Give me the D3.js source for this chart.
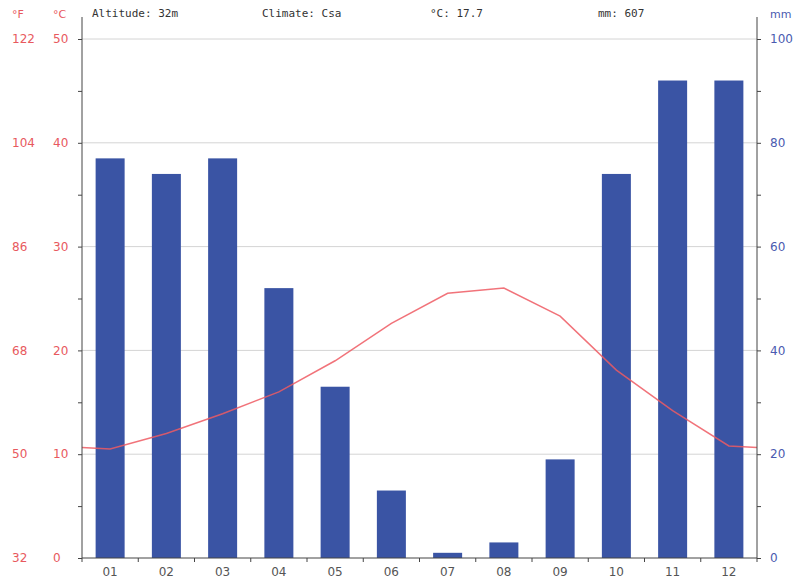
<!DOCTYPE html>
<html>
<head>
<meta charset="utf-8">
<script src="https://cdn.jsdelivr.net/npm/d3@7"></script>
<style>
  body { margin: 0; background: #fff; }
  text { font-family: "DejaVu Sans", sans-serif; }
  .mono { font-family: "DejaVu Sans Mono", monospace; }
</style>
</head>
<body>
<div id="chart"></div>
<script>
// monthly climate data
const months = ["01","02","03","04","05","06","07","08","09","10","11","12"]
const precip = [77, 74, 77, 52, 33, 13, 1, 3, 19, 74, 92, 92]
const temp = [10.5, 12.0, 13.9, 16.0, 19.0, 22.6, 25.5, 26.0, 23.3, 18.1, 14.2, 10.8]
const tempEdge = 10.65   // value where the line meets both side axes
const celsiusTicks = [0, 10, 20, 30, 40, 50]
const fahrenheitTicks = [32, 50, 68, 86, 104, 122]
const mmTicks = [0, 20, 40, 60, 80, 100]
const header = ["Altitude: 32m", "Climate: Csa", "°C: 17.7", "mm: 607"]

const width = 794, height = 580
const margin = {top: 39, right: 37, bottom: 22, left: 82}

const svg = d3.select("#chart").append("svg")
    .attr("width", width)
    .attr("height", height)

let x = d3.scaleBand()
    .domain(months)
    .range([margin.left, width - margin.right])
let yT = d3.scaleLinear().domain([0, 50]).range([height - margin.bottom, margin.top])
let yP = d3.scaleLinear().domain([0, 100]).range([height - margin.bottom, margin.top])

const red = "#e8595e", blue = "#4a5bb0", grey = "#555"

// grid lines
svg.append("g").selectAll("line")
    .data(celsiusTicks.slice(1))
    .enter().append("line")
    .attr("x1", margin.left).attr("x2", width - margin.right)
    .attr("y1", d => yT(d)).attr("y2", d => yT(d))
    .attr("stroke", "#d4d4d4").attr("stroke-width", 1)

// bars
let barW = 29
svg.append("g").selectAll("rect")
    .data(precip)
    .enter().append("rect")
    .attr("x", (d, i) => x(months[i]) + x.bandwidth()/2 - barW/2)
    .attr("y", d => yP(d))
    .attr("width", barW)
    .attr("height", d => yP(0) - yP(d))
    .attr("fill", "#3a54a4")

// temperature line, running out to both axes
let linePts = [[margin.left, tempEdge]]
temp.forEach((t, i) => linePts.push([x(months[i]) + x.bandwidth()/2, t]))
linePts.push([width - margin.right, tempEdge])
svg.append("path")
    .datum(linePts)
    .attr("d", d3.line().x(d => d[0]).y(d => yT(d[1])))
    .attr("fill", "none")
    .attr("stroke", "#ee5a63")
    .attr("stroke-opacity", 0.85)
    .attr("stroke-width", 1.5)

// axes
let axisL = svg.append("g")
    .attr("transform", "translate(" + margin.left + ",0)")
    .call(d3.axisLeft(yT).tickValues(d3.range(0, 55, 5)).tickSize(4).tickFormat(""))
let axisR = svg.append("g")
    .attr("transform", "translate(" + (width - margin.right) + ",0)")
    .call(d3.axisRight(yP).tickValues(d3.range(0, 110, 10)).tickSize(4).tickFormat(""))
let bounds = x.domain().map(m => x(m)).concat([width - margin.right])
let axisB = svg.append("g")
    .attr("transform", "translate(0," + (height - margin.bottom) + ")")
    .call(d3.axisBottom(x).tickSize(0).tickPadding(9))
axisB.selectAll(".tick text").attr("fill", grey).style("font-size", "12px")
axisB.selectAll(".bnd").data(bounds).enter().append("line")
    .attr("x1", d => d).attr("x2", d => d).attr("y1", 0).attr("y2", 4)
    .attr("stroke", "#444")
svg.selectAll(".domain").remove()

// axis lines drawn by hand so they reach above the top
svg.append("line").attr("x1", margin.left).attr("x2", margin.left)
    .attr("y1", 17).attr("y2", yT(0)).attr("stroke", "#444")
svg.append("line").attr("x1", width - margin.right).attr("x2", width - margin.right)
    .attr("y1", 17).attr("y2", yT(0)).attr("stroke", "#444")
svg.append("line").attr("x1", margin.left).attr("x2", width - margin.right)
    .attr("y1", yT(0)).attr("y2", yT(0)).attr("stroke", "#444")
svg.selectAll(".tick line").attr("stroke", "#444")

// tick labels
svg.append("g").selectAll("text").data(celsiusTicks).enter().append("text")
    .attr("x", 53).attr("y", d => yT(d)).attr("dy", "0.35em")
    .attr("fill", red).style("font-size", "12px").text(d => d)
svg.append("g").selectAll("text").data(fahrenheitTicks).enter().append("text")
    .attr("x", 12).attr("y", (d, i) => yT(celsiusTicks[i])).attr("dy", "0.35em")
    .attr("fill", red).style("font-size", "12px").text(d => d)
svg.append("g").selectAll("text").data(mmTicks).enter().append("text")
    .attr("x", 770).attr("y", d => yP(d)).attr("dy", "0.35em")
    .attr("fill", blue).style("font-size", "12px").text(d => d)

// unit headers
svg.append("text").attr("x", 12).attr("y", 18).attr("fill", red).style("font-size", "11px").text("°F")
svg.append("text").attr("x", 53).attr("y", 18).attr("fill", red).style("font-size", "11px").text("°C")
svg.append("text").attr("x", 770).attr("y", 18).attr("fill", blue).style("font-size", "11px").text("mm")

// header line
let headX = [92, 262, 430, 598]
svg.append("g").selectAll("text").data(header).enter().append("text")
    .attr("class", "mono")
    .attr("x", (d, i) => headX[i]).attr("y", 17)
    .attr("fill", "#333").style("font-size", "11px")
    .text(d => d)
</script>
</body>
</html>
